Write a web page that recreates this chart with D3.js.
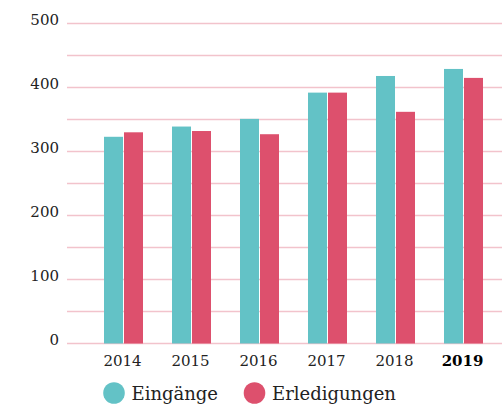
<!DOCTYPE html>
<html>
<head>
<meta charset="utf-8">
<script src="https://cdn.jsdelivr.net/npm/d3@7"></script>
<style>
  html, body { margin: 0; padding: 0; background: #fff; }
  svg { display: block; }
</style>
</head>
<body>
<svg id="chart" width="502" height="404"></svg>
<script>
const years = ["2014", "2015", "2016", "2017", "2018", "2019"];
const seriesNames = ["Eingänge", "Erledigungen"];
const eingaenge = [323, 339, 351, 392, 418, 429];
const erledigungen = [330, 332, 327, 392, 362, 415];
const gridTicks = [0, 50, 100, 150, 200, 250, 300, 350, 400, 450, 500];
const labelTicks = [0, 100, 200, 300, 400, 500];
const colors = ["#63c2c6", "#dd506d"];

const svg = d3.select("#chart");
const y = d3.scaleLinear().domain([0, 500]).range([343.5, 23.5]);
const x0 = d3.scaleBand().domain(years).range([89.5, 497.5])
  .paddingInner(29 / 68).paddingOuter(29 / 136);
const x1 = d3.scaleBand().domain(seriesNames).range([0, x0.bandwidth()]).paddingInner(0.05);
const color = d3.scaleOrdinal().domain(seriesNames).range(colors);

// grid lines
svg.append("g").selectAll("line").data(gridTicks).join("line")
  .attr("x1", 67).attr("x2", 502)
  .attr("y1", d => y(d)).attr("y2", d => y(d))
  .attr("stroke", "#f2c3cc").attr("stroke-width", 1.6);

// y labels
svg.append("g").selectAll("text").data(labelTicks).join("text")
  .attr("x", 59).attr("y", d => y(d) + 1)
  .attr("text-anchor", "end")
  .attr("font-family", "DejaVu Serif")
  .attr("font-size", 15)
  .attr("fill", "#222")
  .text(d => d);

// bars
const rows = years.map((yr, i) => ({ year: yr, values: [
  { key: seriesNames[0], value: eingaenge[i] },
  { key: seriesNames[1], value: erledigungen[i] }
]}));
svg.append("g").selectAll("g").data(rows).join("g")
  .attr("transform", d => `translate(${x0(d.year)},0)`)
  .selectAll("rect").data(d => d.values).join("rect")
  .attr("x", d => x1(d.key))
  .attr("width", x1.bandwidth())
  .attr("y", d => y(d.value))
  .attr("height", d => y(0) - y(d.value))
  .attr("fill", d => color(d.key));

// x labels
svg.append("g").selectAll("text").data(years).join("text")
  .attr("x", d => x0(d) + x0.bandwidth() / 2 - 1)
  .attr("y", 366)
  .attr("text-anchor", "middle")
  .attr("font-family", "DejaVu Serif")
  .attr("font-size", 15)
  .attr("font-weight", (d, i) => i === years.length - 1 ? "bold" : "normal")
  .attr("fill", d => d === "2019" ? "#000" : "#222")
  .text(d => d);

// legend
const legendX = [114, 254.5];
const lg = svg.append("g").selectAll("g").data(seriesNames).join("g")
  .attr("transform", (d, i) => `translate(${legendX[i]},393)`);
lg.append("circle").attr("r", 10.8).attr("fill", d => color(d));
lg.append("text").attr("x", 17.5).attr("y", 6.5)
  .attr("font-family", "DejaVu Serif")
  .attr("font-size", 18)
  .attr("fill", "#222")
  .text(d => d);
</script>
</body>
</html>
